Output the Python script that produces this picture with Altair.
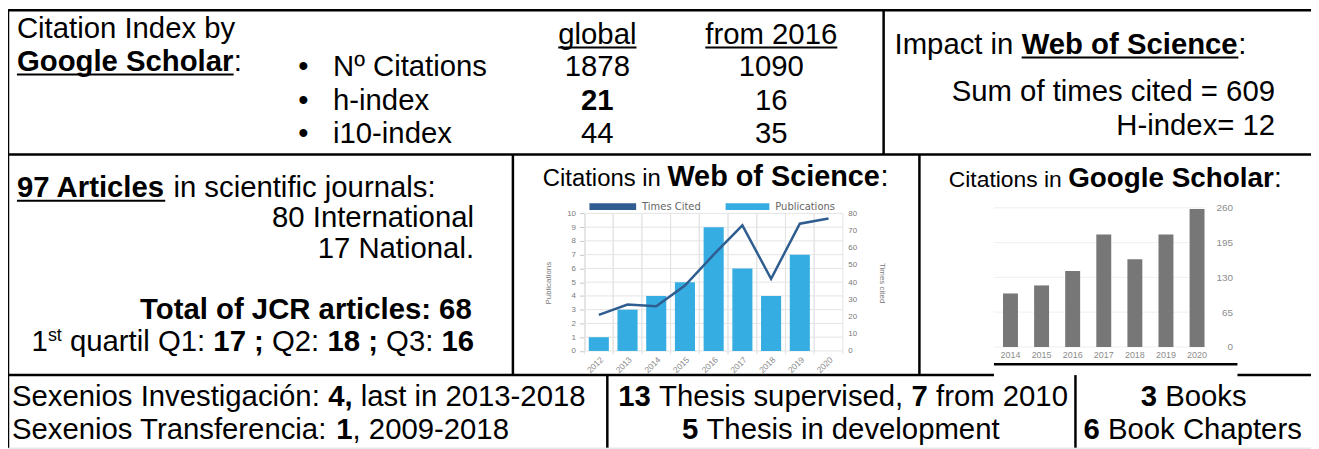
import altair as alt
import pandas as pd

# ---------------- chart values ----------------
wos_years = ["2012", "2013", "2014", "2015", "2016", "2017", "2018", "2019", "2020"]
wos_publications = [1, 3, 4, 5, 9, 6, 4, 7, 0]
wos_times_cited = [21, 27, 26, 38, 56, 73, 42, 74, 77]
wos_pub_ticks = [0, 1, 2, 3, 4, 5, 6, 7, 8, 9, 10]
wos_cited_ticks = [0, 10, 20, 30, 40, 50, 60, 70, 80]
wos_legend = ["Times Cited", "Publications"]

gs_years = ["2014", "2015", "2016", "2017", "2018", "2019", "2020"]
gs_citations = [100, 115, 142, 210, 164, 210, 258]
gs_ticks = [0, 65, 130, 195, 260]

gs_index_names = ["Nº Citations", "h-index", "i10-index"]
gs_index_global = ["1878", "21", "44"]
gs_index_since = ["1090", "16", "35"]

# ---------------- layout helpers ----------------
W, H = 1311, 441
O = 8


def X(v):
    return v - O


def Y(v):
    return v - O


FONT = "Liberation Sans"
F = 29.5

REG = {' ': 278, '!': 278, '(': 333, ')': 333, ',': 278, '-': 333, '.': 278, '/': 278,
       ':': 278, ';': 278, '=': 584, 'ó': 556, 'º': 365, '•': 350}
BOLD = {' ': 278, '!': 333, ',': 278, '-': 333, '.': 278, ':': 333, ';': 333, '=': 584}
for d in "0123456789":
    REG[d] = 556
    BOLD[d] = 556
REG.update(dict(zip("ABCDEFGHIJKLMNOPQRSTUVWXYZ",
                    [667, 667, 722, 722, 667, 611, 778, 722, 278, 500, 667, 556, 833, 722, 778, 667, 778, 722, 667, 611, 722, 667, 944, 667, 667, 611])))
REG.update(dict(zip("abcdefghijklmnopqrstuvwxyz",
                    [556, 556, 500, 556, 556, 278, 556, 556, 222, 222, 500, 222, 833, 556, 556, 556, 556, 333, 500, 278, 556, 500, 722, 500, 500, 500])))
BOLD.update(dict(zip("ABCDEFGHIJKLMNOPQRSTUVWXYZ",
                     [722, 722, 722, 722, 667, 611, 778, 722, 278, 556, 722, 611, 833, 722, 778, 667, 778, 722, 667, 611, 722, 667, 944, 667, 667, 611])))
BOLD.update(dict(zip("abcdefghijklmnopqrstuvwxyz",
                     [556, 611, 556, 611, 556, 333, 611, 611, 278, 278, 556, 278, 889, 611, 611, 611, 611, 389, 556, 333, 611, 556, 778, 556, 556, 500])))


def measure(s, size, bold):
    tbl = BOLD if bold else REG
    return sum(tbl.get(ch, 556) for ch in s) / 1000.0 * size


def R(t, size=F, u=False, rise=0):
    return (t, False, size, u, rise)


def B(t, size=F, u=False, rise=0):
    return (t, True, size, u, rise)


lines = [
    # row 1
    ("left", 17, 37, [R("Citation Index by")]),
    ("left", 17, 70, [B("Google Scholar", u=True), R(":")]),
    ("center", 601, 43, [R("global", u=True)]),
    ("center", 776, 43, [R("from 2016", u=True)]),
    ("left", 900, 53, [R("Impact in "), B("Web of Science", u=True), R(":")]),
    ("right", 1283, 100, [R("Sum of times cited = 609")]),
    ("right", 1283, 134, [R("H-index= 12")]),
    # row 2
    ("left", 17, 197, [B("97 Articles", u=True), R(" in scientific journals:")]),
    ("right", 477, 227, [R("80 International")]),
    ("right", 477, 258, [R("17 National.")]),
    ("right", 477, 320, [B("Total of JCR articles: 68")]),
    ("right", 477, 352, [R("1"), R("st", size=18, rise=10), R(" quartil Q1: "), B("17 ;"),
                         R(" Q2: "), B("18 ;"), R(" Q3: "), B("16")]),
    ("center", 720, 186, [R("Citations in ", size=24), B("Web of Science", size=29), R(":", size=29)]),
    ("center", 1122, 187, [R("Citations in ", size=23), B("Google Scholar", size=28), R(":", size=28)]),
    # row 3
    ("left", 12, 407, [R("Sexenios Investigación: "), B("4,"), R(" last in 2013-2018")]),
    ("left", 12, 440, [R("Sexenios Transferencia: "), B("1"), R(", 2009-2018")]),
    ("left", 622, 407, [B("13"), R(" Thesis supervised, "), B("7"), R(" from 2010")]),
    ("center", 846, 440, [B("5"), R(" Thesis in development")]),
    ("center", 1201, 407, [B("3"), R(" Books")]),
    ("center", 1200, 440, [B("6"), R(" Book Chapters")]),
]

index_baselines = [75.5, 109.5, 142.5]
for i, base in enumerate(index_baselines):
    lines.append(("left", 300, base, [R("•")]))
    lines.append(("left", 335, base, [R(gs_index_names[i])]))
    lines.append(("center", 601, base, [(gs_index_global[i], i == 1, F, False, 0)]))
    lines.append(("center", 776, base, [R(gs_index_since[i])]))

text_rows, under_rows = [], []
for anchor, ax, base, runs in lines:
    total = sum(measure(t, s, b) for t, b, s, u, r in runs)
    if anchor == "left":
        cx = ax
    elif anchor == "right":
        cx = ax - total
    else:
        cx = ax - total / 2
    for t, b, s, u, r in runs:
        w = measure(t, s, b)
        lead = len(t) - len(t.lstrip(" "))
        x0 = cx + measure(t[:lead], s, b)
        shown = t.strip(" ")
        text_rows.append({"x": X(x0), "y": Y(base - r), "text": shown, "size": s, "bold": b})
        if u:
            under_rows.append({"x": X(x0), "x2": X(x0 + measure(shown, s, b)), "y": Y(base + 3.5)})
        cx += w

text_df = pd.DataFrame(text_rows)
under_df = pd.DataFrame(under_rows)

# table borders (page coordinates)
borders = [
    (7, 1319, 9, 9),          # top
    (8, 8, 8, 449),           # left
    (7, 1319, 154, 154),      # row1 / row2
    (7, 1000, 376, 376),      # row2 / row3
    (1245, 1319, 376, 376),
    (1000, 1245, 365, 365),
    (889, 889, 8, 154),
    (516, 516, 154, 376),
    (925, 925, 154, 376),
    (611, 611, 376, 449),
    (1082, 1082, 376, 449),
]
border_df = pd.DataFrame([{"x": X(a), "x2": X(b), "y": Y(c), "y2": Y(d)} for a, b, c, d in borders])

layers = []

layers.append(alt.Chart(border_df).mark_rule(color="black", strokeWidth=2.5).encode(
    x=alt.X("x:Q", scale=None, axis=None), x2="x2:Q",
    y=alt.Y("y:Q", scale=None, axis=None), y2="y2:Q"))

for bold in (False, True):
    sub = text_df[text_df["bold"] == bold]
    layers.append(alt.Chart(sub).mark_text(
        align="left", baseline="alphabetic", font=FONT, color="black",
        fontWeight="bold" if bold else "normal").encode(
        x=alt.X("x:Q", scale=None, axis=None),
        y=alt.Y("y:Q", scale=None, axis=None),
        size=alt.Size("size:Q", scale=None, legend=None),
        text="text:N"))

layers.append(alt.Chart(under_df).mark_rule(color="black", strokeWidth=2).encode(
    x=alt.X("x:Q", scale=None, axis=None), x2="x2:Q",
    y=alt.Y("y:Q", scale=None, axis=None)))

# ---------------- Web of Science chart ----------------
WOS_X = [X(588), X(848)]
WOS_Y = [Y(351.7), Y(213.3)]
GRID = "#e4e4e4"
AX = "#7a7a7a"

wos_df = pd.DataFrame({"year": wos_years, "pubs": wos_publications, "cited": wos_times_cited})
x_wos = alt.Scale(domain=wos_years, range=WOS_X, paddingInner=0.3, paddingOuter=0.15)
x_wos_grid = alt.Scale(domain=wos_years, range=WOS_X, paddingInner=0, paddingOuter=0)
y_pub = alt.Scale(domain=[0, 10], range=WOS_Y, nice=False)
y_cit = alt.Scale(domain=[0, 80], range=WOS_Y, nice=False)

layers.append(alt.Chart(pd.DataFrame({"t": wos_pub_ticks})).mark_rule(color=GRID, strokeWidth=1).encode(
    y=alt.Y("t:Q", scale=y_pub, axis=None),
    x=alt.value(X(588)), x2=alt.value(X(848))))
for bp in (0, 1):
    layers.append(alt.Chart(pd.DataFrame({"year": wos_years})).mark_rule(color=GRID, strokeWidth=1).encode(
        x=alt.X("year:O", scale=x_wos_grid, axis=None, bandPosition=bp),
        y=alt.value(Y(213.3)), y2=alt.value(Y(355))))

layers.append(alt.Chart(wos_df).mark_bar(color="#35ade2").encode(
    x=alt.X("year:O", scale=x_wos, title=None,
            axis=alt.Axis(orient="bottom", offset=Y(351.7) - H, labelAngle=315, labelFontSize=8.5,
                          labelColor="#8c8c8c", labelFont=FONT, ticks=False, domain=False, grid=False,
                          labelPadding=4)),
    y=alt.Y("pubs:Q", scale=y_pub,
            axis=alt.Axis(orient="left", offset=-X(588), values=wos_pub_ticks, grid=False,
                          domainColor="#c8c8c8", tickColor="#c8c8c8", tickSize=5, labelFontSize=8,
                          labelColor=AX, labelFont=FONT, labelPadding=4, title="Publications",
                          titleFontSize=8, titleFontWeight="normal", titleColor=AX, titleFont=FONT,
                          titleAngle=270, titleX=-36, titleY=Y(283), titleAlign="center",
                          titleBaseline="middle"))))

layers.append(alt.Chart(wos_df).mark_line(color="#2f5d8f", strokeWidth=2.5).encode(
    x=alt.X("year:O", scale=x_wos, axis=None),
    y=alt.Y("cited:Q", scale=y_cit,
            axis=alt.Axis(orient="right", offset=X(848) - W, values=wos_cited_ticks, grid=False,
                          domain=False, ticks=False, labelFontSize=8, labelColor=AX, labelFont=FONT,
                          labelPadding=5, title="Times cited", titleFontSize=8,
                          titleFontWeight="normal", titleColor=AX, titleFont=FONT, titleAngle=90,
                          titleX=39, titleY=Y(283), titleAlign="center", titleBaseline="middle"))))

# legend
layers.append(alt.Chart().mark_rect(color="#2f5d8f").encode(
    x=alt.value(X(593)), x2=alt.value(X(640)), y=alt.value(Y(203)), y2=alt.value(Y(210))))
layers.append(alt.Chart().mark_rect(color="#35ade2").encode(
    x=alt.value(X(730)), x2=alt.value(X(774)), y=alt.value(Y(203)), y2=alt.value(Y(210))))
layers.append(alt.Chart().mark_text(align="left", baseline="middle", font="DejaVu Sans", fontSize=10,
                                    color="#666666").encode(
    x=alt.value(X(646)), y=alt.value(Y(207)), text=alt.value(wos_legend[0])))
layers.append(alt.Chart().mark_text(align="left", baseline="middle", font="DejaVu Sans", fontSize=10,
                                    color="#666666").encode(
    x=alt.value(X(780)), y=alt.value(Y(207)), text=alt.value(wos_legend[1])))

# ---------------- Google Scholar chart ----------------
GS_X = [X(1001), X(1220)]
GS_Y = [Y(347.7), Y(207.7)]
gs_df = pd.DataFrame({"year": gs_years, "cites": gs_citations})
x_gs = alt.Scale(domain=gs_years, range=GS_X, paddingInner=0.52, paddingOuter=0.26)
y_gs = alt.Scale(domain=[0, 260], range=GS_Y, nice=False)

layers.append(alt.Chart(pd.DataFrame({"t": gs_ticks})).mark_rule(color="#efefef", strokeWidth=1).encode(
    y=alt.Y("t:Q", scale=y_gs, axis=None),
    x=alt.value(X(1000)), x2=alt.value(X(1213))))

layers.append(alt.Chart(gs_df).mark_bar(color="#777777").encode(
    x=alt.X("year:O", scale=x_gs, title=None,
            axis=alt.Axis(orient="bottom", offset=Y(347.7) - H, labelAngle=0, ticks=False, domain=False,
                          grid=False, labelFontSize=9, labelColor="#8c8c8c", labelFont=FONT,
                          labelPadding=4)),
    y=alt.Y("cites:Q", scale=y_gs, title=None,
            axis=alt.Axis(orient="right", offset=X(1213) - W, values=gs_ticks, ticks=False, tickSize=0,
                          domain=False, grid=False, labelAlign="right", labelPadding=27,
                          labelFontSize=10, labelColor="#8c8c8c", labelFont=FONT))))

chart = alt.layer(*layers).resolve_scale(x="independent", y="independent").properties(
    width=W, height=H, padding=0, autosize=alt.AutoSizeParams(type="none"),
).configure_view(stroke=None).configure(background="white")

chart.save("out.html", embed_options={"renderer": "svg", "actions": False})
